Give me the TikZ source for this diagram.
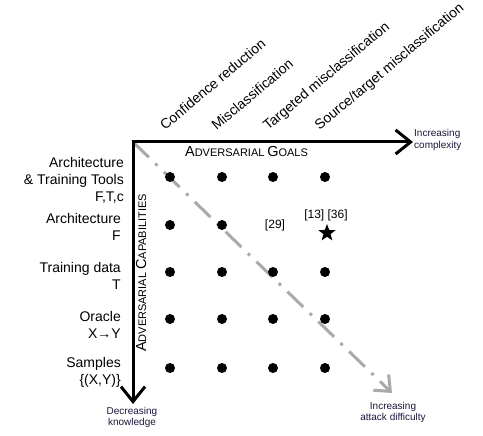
\documentclass[tikz,border=0pt]{standalone}
\usepackage{fontspec}
\setmainfont{Liberation Sans}
\usetikzlibrary{arrows.meta,shapes.geometric}
\definecolor{navy}{RGB}{25,25,60}
\definecolor{diaggray}{RGB}{170,170,170}
\newcommand{\mysc}[2]{{\fontsize{14.5}{14.5}\selectfont #1}{\fontsize{11}{11}\selectfont #2}}
\begin{document}
\begin{tikzpicture}[x=1pt,y=-1pt,
  dotn/.style={circle,fill=black,inner sep=0pt,minimum size=10pt},
  lab/.style={font=\fontsize{14}{17}\selectfont,inner sep=0pt,anchor=north east,align=right},
  collab/.style={font=\fontsize{14}{17}\selectfont,inner sep=0pt,anchor=base west,rotate=40},
  smalllab/.style={font=\fontsize{10}{11.5}\selectfont,inner sep=0pt,text=navy},
  reflab/.style={font=\fontsize{12}{14}\selectfont,inner sep=0pt},
  axisline/.style={line width=3pt,-{Straight Barb[length=15pt,width=24pt]}},
  diagline/.style={line width=3pt,draw=diaggray,dash pattern=on 22pt off 9pt on 3pt off 9pt,-{Straight Barb[length=13pt,width=22pt]}},
]
\useasboundingbox (0,0) rectangle (483,436);
\fill[white] (0,0) rectangle (483,436);

% axes
\coordinate (O) at (133,142);
\coordinate (xend) at (413,142);
\coordinate (yend) at (133,404);
\coordinate (dend) at (392,393);
\coordinate (Ocorner) at (131.5,142);
\coordinate (Otop) at (133,140.5);

\draw[diagline] (O) -- (dend);
\draw[axisline] (Ocorner) -- (xend);
\draw[axisline] (Otop) -- (yend);

% axis texts
\node[inner sep=0pt,anchor=base] (goals) at (246.5,157) {\mysc{A}{DVERSARIAL} \mysc{G}{OALS}};
\node[inner sep=0pt,anchor=base,rotate=90] (caps) at (146,273) {\mysc{A}{DVERSARIAL} \mysc{C}{APABILITIES}};

\node[smalllab,anchor=west,align=left] (cplx) at (414,140) {Increasing\\complexity};
\node[smalllab,anchor=north,align=center] (know) at (132,407) {Decreasing\\knowledge};
\node[smalllab,anchor=north,align=center] (diff) at (393,402) {Increasing\\attack difficulty};

% column labels
\node[collab] (c1) at (165,131) {Confidence reduction};
\node[collab] (c2) at (216.5,131) {Misclassification};
\node[collab] (c3) at (268,131) {Targeted misclassification};
\node[collab] (c4) at (319.5,131) {Source/target misclassification};

% row labels
\node[lab] (r1) at (124,157) {Architecture\\\& Training Tools\\F,T,c};
\node[lab] (r2) at (121,213) {Architecture\\F};
\node[lab] (r3) at (121,262) {Training data\\T};
\node[lab] (r4) at (121,311) {Oracle\\X→Y};
\node[lab] (r5) at (121,357) {Samples\\\{(X,Y)\}};

% dots
\foreach \c/\x in {1/170,2/222,3/273,4/325}{
  \foreach \r/\y in {1/177,3/272,4/319,5/368}{
    \node[dotn] (d\r\c) at (\x,\y) {};
  }
}
\node[dotn] (d21) at (170,225) {};
\node[dotn] (d22) at (222,225) {};

\node[reflab] (ref29) at (275,225) {[29]};
\node[reflab] (ref1336) at (326,215) {[13] [36]};
\node[star,star points=5,star point ratio=2.4,fill=black,minimum size=18pt,inner sep=0pt] (star) at (327,233) {};
\end{tikzpicture}
\end{document}
